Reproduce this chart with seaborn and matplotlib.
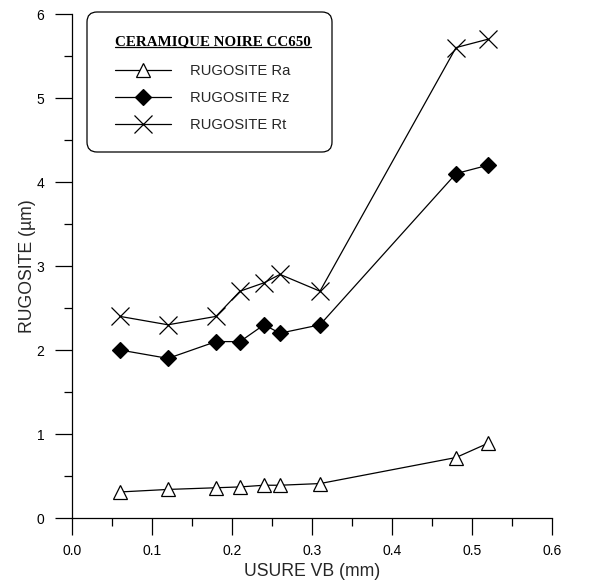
import matplotlib
matplotlib.use("Agg")
import matplotlib.pyplot as plt
import seaborn as sns
import pandas as pd
from matplotlib.lines import Line2D
from matplotlib.patches import FancyBboxPatch
from matplotlib.ticker import MultipleLocator

# Tool wear (flank wear VB) and the measured surface roughness values
usure_vb = [0.06, 0.12, 0.18, 0.21, 0.24, 0.26, 0.31, 0.48, 0.52]
rugosite_ra = [0.31, 0.34, 0.36, 0.37, 0.39, 0.39, 0.41, 0.72, 0.89]
rugosite_rz = [2.0, 1.9, 2.1, 2.1, 2.3, 2.2, 2.3, 4.1, 4.2]
rugosite_rt = [2.4, 2.3, 2.4, 2.7, 2.8, 2.9, 2.7, 5.6, 5.7]

series_labels = ["RUGOSITE Ra", "RUGOSITE Rz", "RUGOSITE Rt"]
legend_title = "CERAMIQUE NOIRE CC650"
x_label = "USURE VB (mm)"
y_label = "RUGOSITE (µm)"
x_ticks = [0.0, 0.1, 0.2, 0.3, 0.4, 0.5, 0.6]
y_ticks = [0, 1, 2, 3, 4, 5, 6]

sns.set_style("ticks")
plt.rcParams["font.family"] = ["Liberation Sans", "DejaVu Sans"]

W, H = 589, 583
fig = plt.figure(figsize=(W / 100, H / 100), dpi=100)
ax = fig.add_axes([72 / W, 1 - 518 / H, 480 / W, 504 / H])

df = pd.DataFrame({"vb": usure_vb, "ra": rugosite_ra,
                   "rz": rugosite_rz, "rt": rugosite_rt})

line_kw = dict(color="black", linewidth=0.9, legend=False, ax=ax)
sns.lineplot(data=df, x="vb", y="ra", marker="^", markersize=10,
             markerfacecolor="white", markeredgecolor="black",
             markeredgewidth=0.9, label=series_labels[0], **line_kw)
sns.lineplot(data=df, x="vb", y="rz", marker="D", markersize=8,
             markerfacecolor="black", markeredgecolor="black",
             markeredgewidth=0.9, label=series_labels[1], **line_kw)
sns.lineplot(data=df, x="vb", y="rt", marker="x", markersize=13,
             markerfacecolor="black", markeredgecolor="black",
             markeredgewidth=0.9, label=series_labels[2], **line_kw)

ax.set_xlim(0, 0.6)
ax.set_ylim(0, 6)
ax.set_xticks(x_ticks)
ax.set_yticks(y_ticks)
ax.set_xticklabels([f"{t:.1f}" for t in x_ticks])
ax.set_yticklabels([str(t) for t in y_ticks])
ax.xaxis.set_minor_locator(MultipleLocator(0.05))
ax.yaxis.set_minor_locator(MultipleLocator(0.5))
ax.tick_params(which="major", direction="out", length=12, width=0.9,
               colors="black", labelsize=10)
ax.tick_params(which="minor", direction="out", length=6, width=0.9,
               colors="black")
ax.tick_params(axis="x", which="major", pad=7)
ax.tick_params(axis="y", which="major", pad=8)

for side in ("top", "right"):
    ax.spines[side].set_visible(False)
for side in ("left", "bottom"):
    ax.spines[side].set_linewidth(0.9)
    ax.spines[side].set_color("black")

ax.set_xlabel(x_label, fontsize=12.7, labelpad=3)
ax.set_ylabel(y_label, fontsize=12.7, labelpad=0)

# Rounded legend frame, drawn in pixel-sized inches on the axes
frame = FancyBboxPatch((87 / 100, (H - 152) / 100), 245 / 100, 140 / 100,
                       boxstyle="round,pad=0,rounding_size=0.1",
                       transform=fig.dpi_scale_trans, facecolor="white",
                       edgecolor="black", linewidth=0.9, zorder=4,
                       clip_on=False)
ax.add_artist(frame)

# Legend entries inside the frame
handles = [ln for ln in ax.lines if ln.get_label() in series_labels]
leg = ax.legend(handles=handles, labels=series_labels,
                loc="upper left", bbox_to_anchor=(115 / W, 1 - 64 / H),
                bbox_transform=fig.transFigure, fontsize=10.6,
                handlelength=3.8, handletextpad=1.3, labelspacing=0.88,
                borderpad=0, borderaxespad=0, frameon=False)
leg.set_zorder(5)

# Underlined title inside the legend frame
title = fig.text(115 / W, 1 - 45 / H, legend_title, ha="left",
                 va="baseline", family="Liberation Serif", weight="bold",
                 fontsize=10.8, color="black", zorder=4)
fig.canvas.draw()
tb = title.get_window_extent(fig.canvas.get_renderer())
inv = fig.transFigure.inverted()
(x0, y0), (x1, _) = inv.transform([(tb.x0, H - 47), (tb.x1, H - 47)])
fig.add_artist(Line2D([x0, x1], [y0, y0], transform=fig.transFigure,
                      color="black", linewidth=0.9, zorder=4))

fig.savefig("out.png", dpi=100)
